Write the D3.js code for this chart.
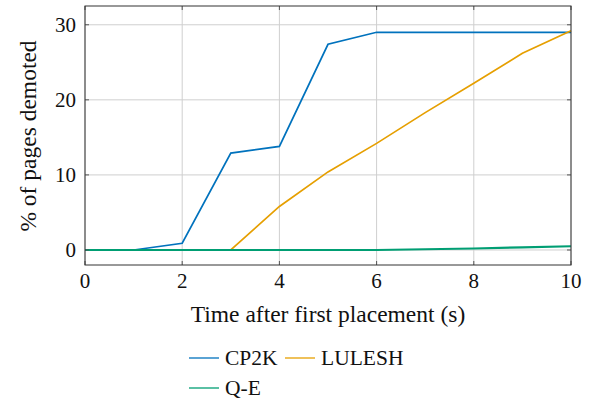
<!DOCTYPE html>
<html>
<head>
<meta charset="utf-8">
<script src="https://d3js.org/d3.v7.min.js"></script>
<style>
body { margin: 0; background: #fff; }
text { font-family: "Liberation Serif", "DejaVu Serif", serif; fill: #111; }
</style>
</head>
<body>
<script>
// data
var times = [0, 1, 2, 3, 4, 5, 6, 7, 8, 9, 10];
var cp2k = [0, 0, 0.9, 12.9, 13.8, 27.4, 29.0, 29.0, 29.0, 29.0, 29.0];
var lulesh = [0, 0, 0, 0, 5.8, 10.4, 14.2, 18.3, 22.2, 26.2, 29.2];
var qe = [0, 0, 0, 0, 0, 0, 0, 0.1, 0.2, 0.35, 0.5];
var xTicks = [0, 2, 4, 6, 8, 10];
var yTicks = [0, 10, 20, 30];
var seriesNames = ["CP2K", "LULESH", "Q-E"];
var seriesColors = ["#0072bd", "#e69f00", "#009e73"];

var w = 592, h = 400;
var m = {left: 85, right: 21, top: 6, bottom: 135};

var svg = d3.select("body").append("svg")
  .attr("width", w)
  .attr("height", h);

var x = d3.scaleLinear().domain([0, 10]).range([m.left, w - m.right]);
var y = d3.scaleLinear().domain([-2, 32.5]).range([h - m.bottom, m.top]);

// grid
svg.append("g").selectAll("line").data(xTicks).enter().append("line")
  .attr("x1", d => x(d)).attr("x2", d => x(d))
  .attr("y1", y.range()[0]).attr("y2", y.range()[1])
  .style("stroke", "#cfcfcf").style("stroke-width", 1);
svg.append("g").selectAll("line").data(yTicks).enter().append("line")
  .attr("x1", x.range()[0]).attr("x2", x.range()[1])
  .attr("y1", d => y(d)).attr("y2", d => y(d))
  .style("stroke", "#cfcfcf").style("stroke-width", 1);

// lines
var allSeries = [cp2k, lulesh, qe];
var line = d3.line().x((d, i) => x(times[i])).y(d => y(d));
allSeries.forEach(function(s, k) {
  svg.append("path")
    .datum(s)
    .attr("d", line)
    .style("fill", "none")
    .style("stroke", seriesColors[k])
    .style("stroke-width", k == 2 ? 2.2 : 1.7);
});

// inner ticks on all sides
var tl = 4;
var tickStyle = function(sel) { sel.style("stroke", "#555").style("stroke-width", 1); };
xTicks.forEach(function(t) {
  svg.append("line").attr("x1", x(t)).attr("x2", x(t))
    .attr("y1", y.range()[0]).attr("y2", y.range()[0] - tl).call(tickStyle);
  svg.append("line").attr("x1", x(t)).attr("x2", x(t))
    .attr("y1", y.range()[1]).attr("y2", y.range()[1] + tl).call(tickStyle);
});
yTicks.forEach(function(t) {
  svg.append("line").attr("x1", x.range()[0]).attr("x2", x.range()[0] + tl)
    .attr("y1", y(t)).attr("y2", y(t)).call(tickStyle);
  svg.append("line").attr("x1", x.range()[1]).attr("x2", x.range()[1] - tl)
    .attr("y1", y(t)).attr("y2", y(t)).call(tickStyle);
});

// frame
svg.append("rect")
  .attr("x", x.range()[0]).attr("y", y.range()[1])
  .attr("width", x.range()[1] - x.range()[0])
  .attr("height", y.range()[0] - y.range()[1])
  .style("fill", "none").style("stroke", "#333").style("stroke-width", 1);

// tick labels
svg.append("g").selectAll("text").data(xTicks).enter().append("text")
  .attr("x", d => x(d)).attr("y", y.range()[0] + 23)
  .attr("text-anchor", "middle")
  .style("font-size", "21px")
  .text(d => d);
svg.append("g").selectAll("text").data(yTicks).enter().append("text")
  .attr("x", x.range()[0] - 9).attr("y", d => y(d) + 7)
  .attr("text-anchor", "end")
  .style("font-size", "21px")
  .text(d => d);

// axis titles
svg.append("text")
  .attr("x", 328).attr("y", 322)
  .attr("text-anchor", "middle")
  .style("font-size", "23.5px")
  .text("Time after first placement (s)");
svg.append("text")
  .attr("transform", "translate(36,136) rotate(-90)")
  .attr("text-anchor", "middle")
  .style("font-size", "23.5px")
  .text("% of pages demoted");

// legend
var legendPos = [[189, 358], [285, 358], [189, 388]];
seriesNames.forEach(function(name, k) {
  var p = legendPos[k];
  svg.append("line")
    .attr("x1", p[0]).attr("x2", p[0] + 30)
    .attr("y1", p[1]).attr("y2", p[1])
    .style("stroke", seriesColors[k]).style("stroke-width", 1.3);
  svg.append("text")
    .attr("x", p[0] + 36).attr("y", p[1] + 7)
    .style("font-size", "21.5px")
    .text(name);
});
</script>
</body>
</html>
